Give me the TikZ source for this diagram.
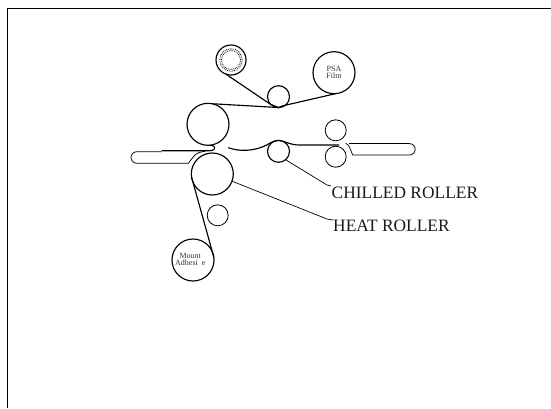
\documentclass[tikz,border=0pt]{standalone}
\usepackage{fontspec}
\setmainfont{Liberation Serif}
\tikzset{
  roller/.style={circle,draw,line width=1.15pt,inner sep=0pt,outer sep=0pt,minimum size=#1},
  idler/.style={circle,draw,line width=0.8pt,inner sep=0pt,outer sep=0pt,minimum size=#1},
  web/.style={line width=1.15pt,line join=round},
  tray/.style={line width=0.75pt,line join=round},
  traytop/.style={line width=1.3pt,black!70},
  leader/.style={line width=0.7pt},
  rollertext/.style={inner sep=0pt,font=\fontsize{8}{7}\selectfont,text=black!80,align=center},
  callout/.style={anchor=base west,inner sep=0pt,font=\fontsize{17.4}{20}\selectfont,text=black!90}
}
\begin{document}
\begin{tikzpicture}[x=1pt,y=-1pt]
\useasboundingbox (0,0) rectangle (551,408);
\draw[line width=0.8pt] (7,408) -- (7,8) -- (551,8);
% rollers
\node[roller=30pt] (core) at (231,60) {};
\node[circle,draw,densely dotted,line width=0.8pt,minimum size=22.5pt,inner sep=0pt] (coreouter) at (231,60) {};
\node[circle,draw,densely dotted,line width=0.8pt,minimum size=19pt,inner sep=0pt] (coreinner) at (231,60) {};
\node[roller=42pt] (psa) at (334,72.7) {};
\node[roller=22pt] (nipa) at (278.5,96.7) {};
\node[roller=42pt] (upper) at (208,124.3) {};
\node[roller=42pt] (heat) at (212.3,174) {};
\node[roller=22pt] (chilled) at (278.5,151.3) {};
\node[idler=21pt] (rup) at (335.7,130.3) {};
\node[idler=21pt] (rlow) at (335.7,156.7) {};
\node[idler=21pt] (low) at (217.7,215.3) {};
\node[roller=42pt] (mount) at (193,260) {};
% roller texts
\node[rollertext] (psat) at (334,72.8) {PSA\\Film};
\node[rollertext] (mountt) at (190.3,259) {Mount\\Adhesi\ \ e};
% labels
\node[callout] (chilledlabel) at (331.5,198.3) {CHILLED ROLLER};
\node[callout] (heatlabel) at (333,231.7) {HEAT ROLLER};
\coordinate (chilledend) at (331,186);
\coordinate (heatend) at (333,220);
\draw[leader] (chilled.-50) -- (327,185) -- (chilledend);
\draw[leader] (heat.-20) -- (327,219) -- (heatend);
% webs
\coordinate (nipbottom) at (278.3,107.5);
\draw[web] (core.250) -- (270,104) -- (nipbottom);
\draw[web] (upper.78) -- (nipbottom) -- (283.3,105.7) -- (psa.-85);
\draw[web] (heat.188) -- (mount.8);
\draw[web] (upper.-85) .. controls (212,145) and (216,146) .. (214.3,149) .. controls (213.5,150.6) and (211,150.7) .. (209,150.7) -- (161.7,150.7);
\coordinate (rightwebend) at (339,145);
\draw[web] (228.3,147.7) .. controls (240,152) and (255,151) .. (266.7,145) .. controls (272,141.5) and (276,140.3) .. (280,140.6) .. controls (286,141.5) and (290,145) .. (300,145) -- (rightwebend);
% left tray
\draw[tray] (161.7,151.7) -- (136.8,151.7) arc[start angle=270,end angle=90,radius=5.8] -- (188.3,163.3) -- (194,156) .. controls (197,152.5) and (201,151.8) .. (205,151.4);
% right tray
\draw[tray] (345.7,143.3) .. controls (349.5,144.5) and (350,149) .. (352.7,155) -- (409.5,155) arc[start angle=90,end angle=-90,radius=5.7] -- (349,143.6);
\end{tikzpicture}
\end{document}
